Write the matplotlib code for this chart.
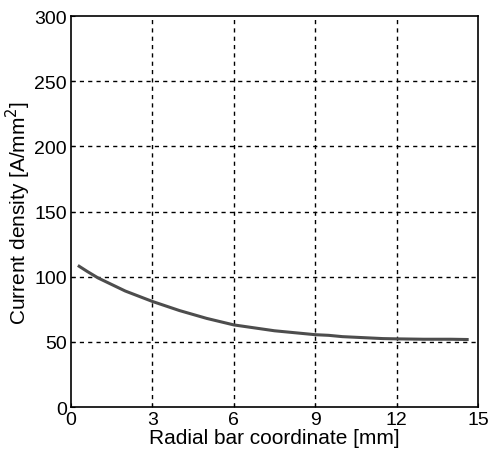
import matplotlib
matplotlib.use('Agg')
import matplotlib.pyplot as plt

plt.rcParams['font.family'] = ['Liberation Sans', 'DejaVu Sans']

# Radial coordinate [mm] and current density [A/mm^2]
radius = [0.3, 0.6, 1.0, 1.5, 2.0, 2.5, 3.0, 3.5, 4.0, 4.5, 5.0, 5.5, 6.0,
          6.5, 7.0, 7.5, 8.0, 8.5, 9.0, 9.5, 10.0, 10.5, 11.0, 11.5, 12.0,
          13.0, 14.0, 14.6]
density = [108, 104, 99, 94, 89, 85, 81, 77.5, 74, 71, 68, 65.5, 63,
           61.5, 60, 58.5, 57.5, 56.5, 55.5, 55, 54, 53.5, 53, 52.5, 52.3,
           52, 52, 51.8]

x_ticks = [0, 3, 6, 9, 12, 15]
y_ticks = [0, 50, 100, 150, 200, 250, 300]

fig = plt.figure(figsize=(4.88, 4.60), dpi=100)
ax = fig.add_axes([0.1455, 0.113, 0.834, 0.85])

ax.plot(radius, density, color='#4d4d4d', lw=2.2)

ax.set_xlim(0, 15)
ax.set_ylim(0, 300)
ax.set_xticks(x_ticks)
ax.set_yticks(y_ticks)
ax.grid(True, color='black', linestyle=(0, (3, 3)), lw=1)
# no dashed grid lines on the box edges
for gl in [ax.get_xgridlines()[0], ax.get_xgridlines()[-1],
           ax.get_ygridlines()[0], ax.get_ygridlines()[-1]]:
    gl.set_visible(False)
ax.tick_params(direction='in', length=3, labelsize=14, pad=3)
for sp in ax.spines.values():
    sp.set_linewidth(1.2)
    sp.set_zorder(5)

ax.set_xlabel('Radial bar coordinate [mm]', fontsize=15, labelpad=0)
ax.set_ylabel('Current density [A/mm$^2$]', fontsize=15, labelpad=1)

fig.savefig('out.png', dpi=100)
